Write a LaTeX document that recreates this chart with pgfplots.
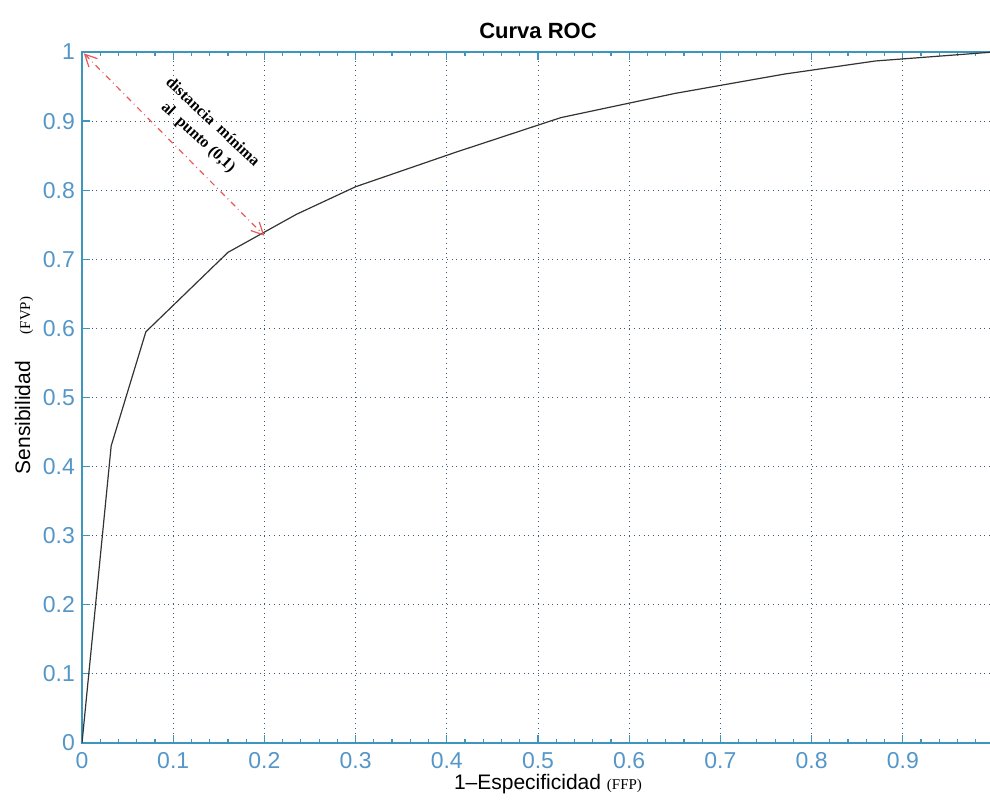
\documentclass[border=0pt]{standalone}
\usepackage{fontspec}
\setmainfont{Liberation Sans}
\newfontfamily\serifpart{Liberation Serif}
\usepackage{pgfplots}
\pgfplotsset{compat=1.18}
\usetikzlibrary{arrows.meta}
\definecolor{axblue}{RGB}{60,150,190}
\definecolor{ticklbl}{RGB}{85,150,200}
\definecolor{gridc}{RGB}{60,90,120}
\definecolor{arrred}{RGB}{230,90,90}
\begin{document}
\begin{tikzpicture}
\begin{axis}[
    scale only axis,
    width=456pt, height=345.5pt,
    xmin=0, xmax=1, ymin=0, ymax=1,
    xtick={0,0.1,0.2,0.3,0.4,0.5,0.6,0.7,0.8,0.9,1},
    xticklabels={0,0.1,0.2,0.3,0.4,0.5,0.6,0.7,0.8,0.9,},
    ytick={0,0.1,0.2,0.3,0.4,0.5,0.6,0.7,0.8,0.9,1},
    minor x tick num=4,
    tick align=inside,
    major tick length=4pt, minor tick length=2pt,
    ytick pos=left,
    axis line style={axblue, line width=0.8pt},
    tick style={axblue, line width=0.6pt},
    /pgf/number format/assume math mode=true,
    ticklabel style={font=\fontsize{11.5}{13}\selectfont, text=ticklbl},
    xticklabel style={yshift=-1pt},
    grid=major,
    major grid style={gridc, dotted, line width=0.5pt},
    title={\bfseries Curva ROC},
    title style={font=\fontsize{11}{13}\selectfont, yshift=-3pt},
    xlabel={1\textendash Especificidad {\serifpart\fontsize{7.5}{9}\selectfont (FFP)}},
    ylabel={Sensibilidad \quad{\serifpart\fontsize{7.5}{9}\selectfont (FVP)}},
    label style={font=\fontsize{10.5}{12}\selectfont},
    xlabel style={yshift=4pt, xshift=5pt},
    ylabel style={yshift=-2pt, xshift=6pt},
]
\addplot[black!80, line width=0.6pt, mark=none] coordinates {
    (0,0) (0.032,0.43) (0.07,0.595) (0.16,0.71) (0.235,0.765)
    (0.30,0.805) (0.41,0.855) (0.525,0.905) (0.65,0.94)
    (0.77,0.968) (0.87,0.987) (1,1)
};
\draw[arrred, dash dot, line width=0.6pt,
      {Straight Barb[length=6pt,width=6pt]}-{Straight Barb[length=6pt,width=6pt]}]
    (axis cs:0.002,0.998) -- (axis cs:0.2,0.734);
\node[rotate=-43, font=\serifpart\bfseries\fontsize{8}{10.5}\selectfont, align=center, inner sep=0pt]
    at (axis cs:0.135,0.887) {distancia\ \ mínima\\al\ \ punto (0,1)};
\end{axis}
\pgfresetboundingbox
\useasboundingbox (-41pt,-29pt) rectangle (454pt,371.5pt);
\end{tikzpicture}
\end{document}
